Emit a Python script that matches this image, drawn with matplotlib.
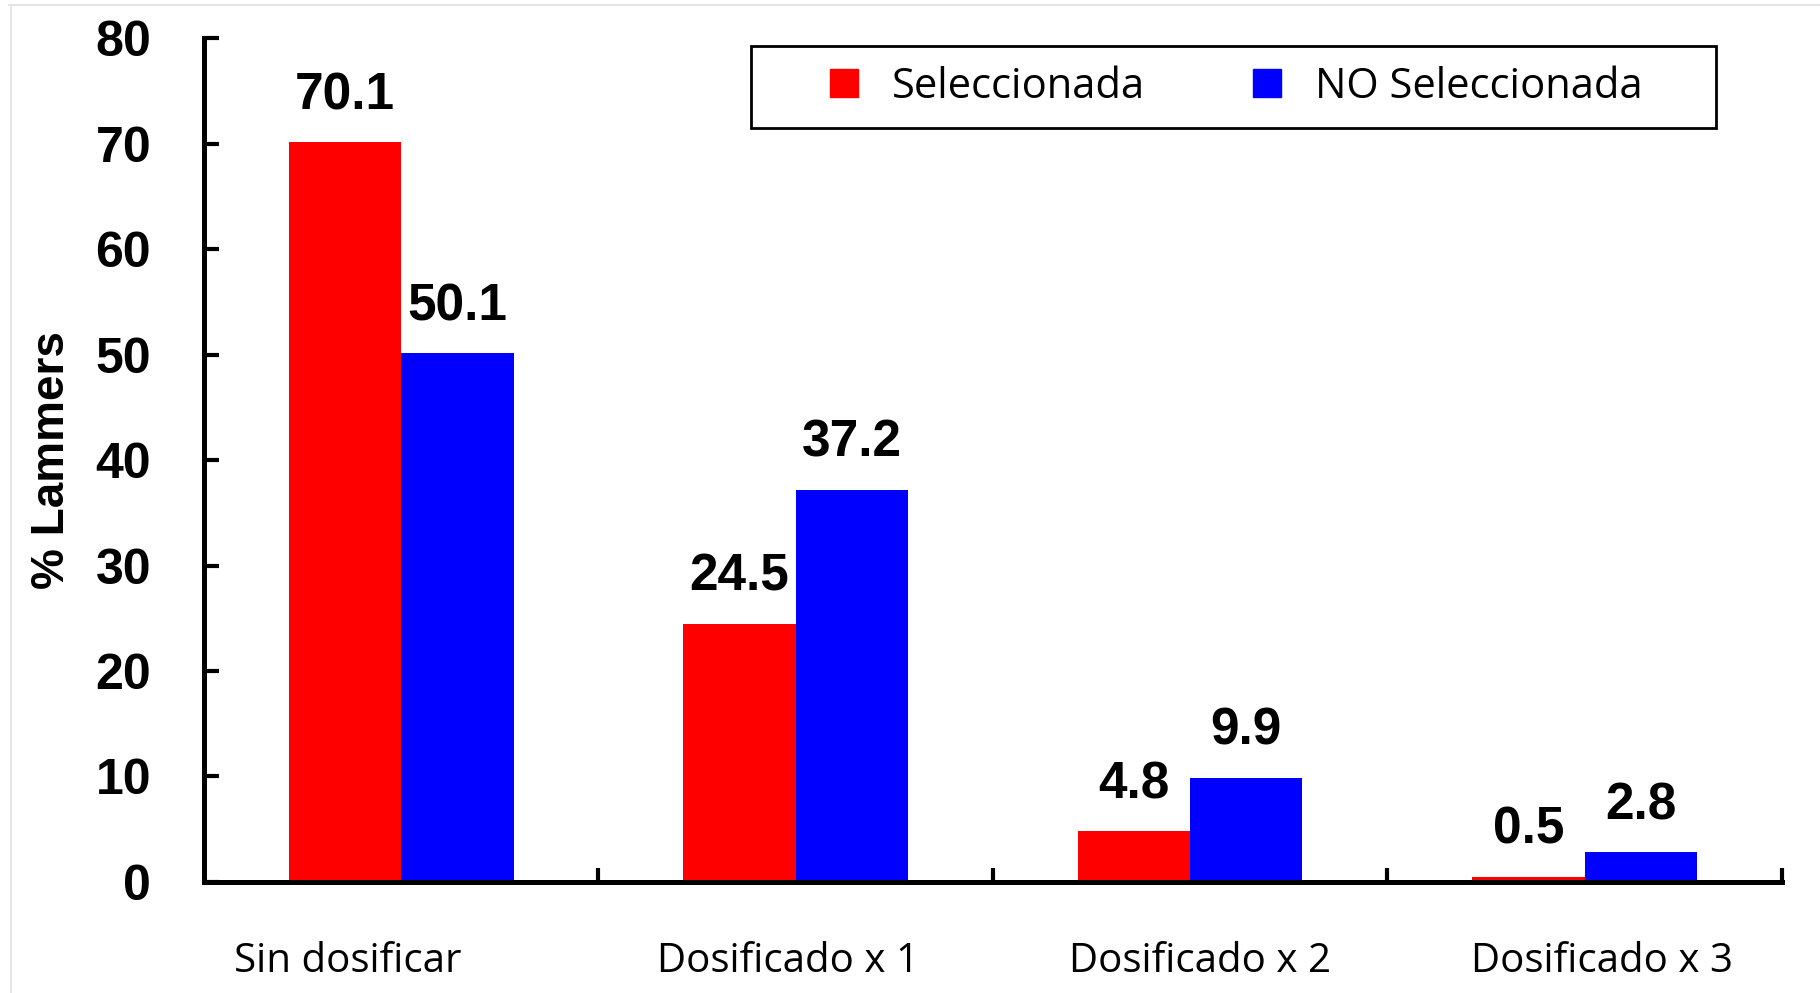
import matplotlib
matplotlib.use("Agg")
import matplotlib.pyplot as plt
from matplotlib.lines import Line2D
from matplotlib.patches import Rectangle
import numpy as np

#==========================================================
# Données
#==========================================================
categories = ['Sin dosificar', 'Dosificado x 1', 'Dosificado x 2', 'Dosificado x 3']
seleccionada = [70.1, 24.5, 4.8, 0.5]
no_seleccionada = [50.1, 37.2, 9.9, 2.8]
series_names = ['Seleccionada', 'NO Seleccionada']
yticks = [0, 10, 20, 30, 40, 50, 60, 70, 80]

rojo = '#ff0000'
azul = '#0000ff'

#==========================================================
# Figure
#==========================================================
fig = plt.figure(figsize=(18.2, 9.93), dpi=100)
ax = fig.add_axes([0.112, 0.1118, 0.867, 0.8499])

x = np.arange(len(categories))
w = 0.285
bars1 = ax.bar(x - w / 2, seleccionada, width=w, color=rojo, zorder=2)
bars2 = ax.bar(x + w / 2, no_seleccionada, width=w, color=azul, zorder=2)

# Etiquetas de valores encima de las barras
for bars in (bars1, bars2):
    for b in bars:
        ax.annotate(f'{b.get_height():.1f}', (b.get_x() + b.get_width() / 2, b.get_height()),
                    xytext=(0, 16), textcoords='offset points', ha='center', va='bottom',
                    fontsize=37, fontweight='bold', family='Liberation Sans')

# Ejes
ax.set_xlim(-0.5, len(categories) - 0.5)
ax.set_ylim(0, 80)
for s in ['top', 'right']:
    ax.spines[s].set_visible(False)
for s in ['left', 'bottom']:
    ax.spines[s].set_linewidth(3.6)

ax.set_yticks(yticks)
ax.set_yticklabels([str(t) for t in yticks], fontsize=36, fontweight='bold', family='Liberation Sans')
ax.tick_params(axis='y', direction='in', length=11, width=3, pad=38)

# Categorías (un poco desplazadas como en el original), marcas entre grupos
label_shift = np.array([-0.135, -0.018, 0.026, 0.044])
ax.set_xticks(x + label_shift)
ax.set_xticklabels(categories, fontsize=29, family='Open Sans')
ax.tick_params(axis='x', which='major', length=0, pad=43)
ax.set_xticks(list(x + 0.5), minor=True)
ax.tick_params(axis='x', which='minor', direction='in', length=10, width=3)

ax.set_ylabel('% Lammers', fontsize=33, fontweight='bold', family='Liberation Sans')
ax.yaxis.set_label_coords(-0.082, 0.5)

# Leyenda horizontal con marco dibujado aparte
ax.add_patch(Rectangle((0.347, 0.893), 0.611, 0.097, transform=ax.transAxes, facecolor='white',
                       edgecolor='black', lw=2, clip_on=False, zorder=4))
handles = [Line2D([], [], marker='s', linestyle='none', markersize=20, color=c) for c in (rojo, azul)]
leg = ax.legend(handles, series_names, loc='center left', bbox_to_anchor=(0.3935, 0.942, 0.518, 0.0),
                mode='expand', ncol=2, frameon=False, borderpad=0, borderaxespad=0,
                prop={'family': 'Open Sans', 'size': 30}, handletextpad=0.7, handlelength=0.9)
leg.set_zorder(5)

# Marco gris claro de la imagen
fig.add_artist(Line2D([0.005, 1], [0.995, 0.995], color='#e6e6e6', lw=1.5))
fig.add_artist(Line2D([0.006, 0.006], [0, 0.995], color='#e6e6e6', lw=1.5))

plt.savefig('out.png')
plt.close()
